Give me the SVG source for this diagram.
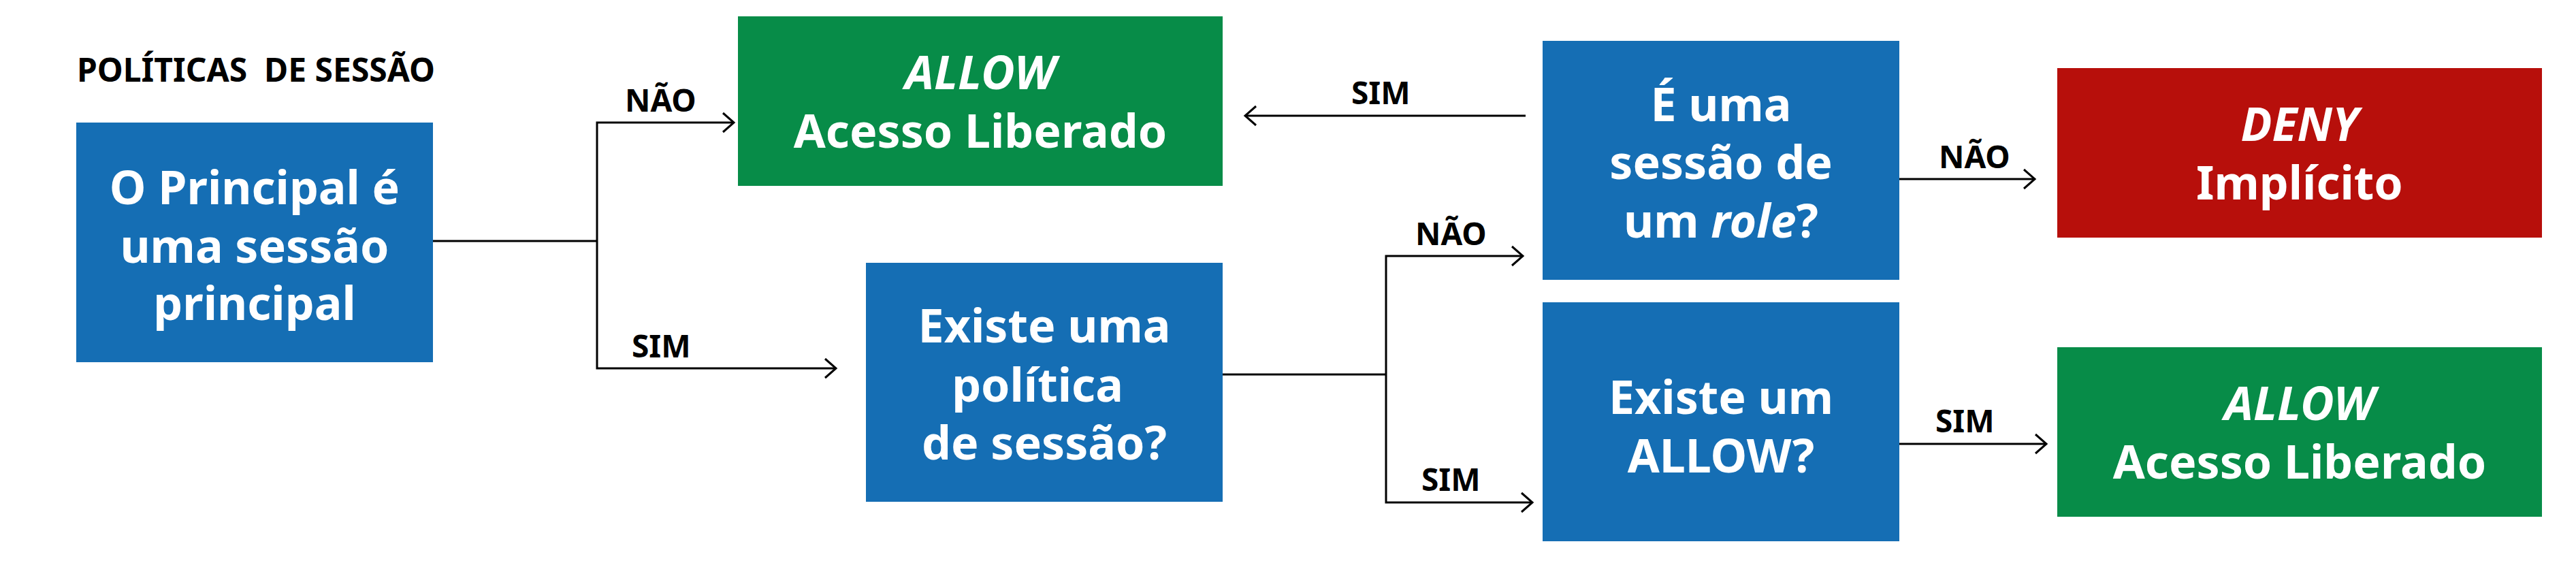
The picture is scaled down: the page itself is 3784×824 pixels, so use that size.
<svg xmlns="http://www.w3.org/2000/svg" width="3784" height="824" viewBox="0 0 3784 824">
<defs>
<style>
.bg{fill:#ffffff}
.blue{fill:#156EB4}
.green{fill:#078C48}
.red{fill:#B70F0B}
.t{font-family:"Noto Sans","Open Sans","DejaVu Sans",sans-serif;font-weight:bold;font-size:68px;fill:#ffffff;text-anchor:middle}
.lbl{font-family:"Noto Sans","Open Sans","DejaVu Sans",sans-serif;font-weight:bold;font-size:46px;fill:#000000}
.ttl{font-size:48px}
.it{font-style:italic}
.ln{fill:none;stroke:#000000;stroke-width:3}
</style>
<marker id="arr" markerUnits="userSpaceOnUse" markerWidth="22" markerHeight="34" refX="18" refY="16" orient="auto">
<path d="M2,2 L18,16 L2,30" fill="none" stroke="#000000" stroke-width="3"/>
</marker>
</defs>
<rect class="bg" x="0" y="0" width="3784" height="824"/>
<text class="lbl ttl" x="113" y="120" xml:space="preserve">POLÍTICAS  DE SESSÃO</text>

<g id="connectors">
<path class="ln" d="M636,354 H877"/>
<path class="ln" d="M877,354 V180 H1078" marker-end="url(#arr)"/>
<path class="ln" d="M877,354 V541 H1228" marker-end="url(#arr)"/>
<path class="ln" d="M2241,170 H1829" marker-end="url(#arr)"/>
<path class="ln" d="M1796,550 H2036"/>
<path class="ln" d="M2036,550 V376 H2237" marker-end="url(#arr)"/>
<path class="ln" d="M2036,550 V738 H2251" marker-end="url(#arr)"/>
<path class="ln" d="M2790,263 H2989" marker-end="url(#arr)"/>
<path class="ln" d="M2790,652 H3006" marker-end="url(#arr)"/>
<text class="lbl" x="918" y="164">NÃO</text>
<text class="lbl" x="928" y="525">SIM</text>
<text class="lbl" x="1985" y="153">SIM</text>
<text class="lbl" x="2079" y="360">NÃO</text>
<text class="lbl" x="2088" y="721">SIM</text>
<text class="lbl" x="2848" y="247">NÃO</text>
<text class="lbl" x="2843" y="635">SIM</text>
</g>

<g id="principal">
<rect class="blue" x="112" y="180" width="524" height="352"/>
<text class="t" x="374" y="300">O Principal é</text>
<text class="t" x="374" y="386">uma sessão</text>
<text class="t" x="374" y="470">principal</text>
</g>

<g id="allow1">
<rect class="green" x="1084" y="24" width="712" height="249"/>
<text class="t it" x="1440" y="131">ALLOW</text>
<text class="t" x="1440" y="217">Acesso Liberado</text>
</g>

<g id="politica">
<rect class="blue" x="1272" y="386" width="524" height="351"/>
<text class="t" x="1534" y="503">Existe uma</text>
<text class="t" x="1524" y="590">política</text>
<text class="t" x="1534" y="675">de sessão?</text>
</g>

<g id="role">
<rect class="blue" x="2266" y="60" width="524" height="351"/>
<text class="t" x="2528" y="178">É uma</text>
<text class="t" x="2528" y="263">sessão de</text>
<text class="t" x="2528" y="349">um <tspan class="it">role</tspan>?</text>
</g>

<g id="existeallow">
<rect class="blue" x="2266" y="444" width="524" height="351"/>
<text class="t" x="2528" y="608">Existe um</text>
<text class="t" x="2528" y="694">ALLOW?</text>
</g>

<g id="deny">
<rect class="red" x="3022" y="100" width="712" height="249"/>
<text class="t it" x="3378" y="207">DENY</text>
<text class="t" x="3378" y="293">Implícito</text>
</g>

<g id="allow2">
<rect class="green" x="3022" y="510" width="712" height="249"/>
<text class="t it" x="3378" y="617">ALLOW</text>
<text class="t" x="3378" y="703">Acesso Liberado</text>
</g>
</svg>
